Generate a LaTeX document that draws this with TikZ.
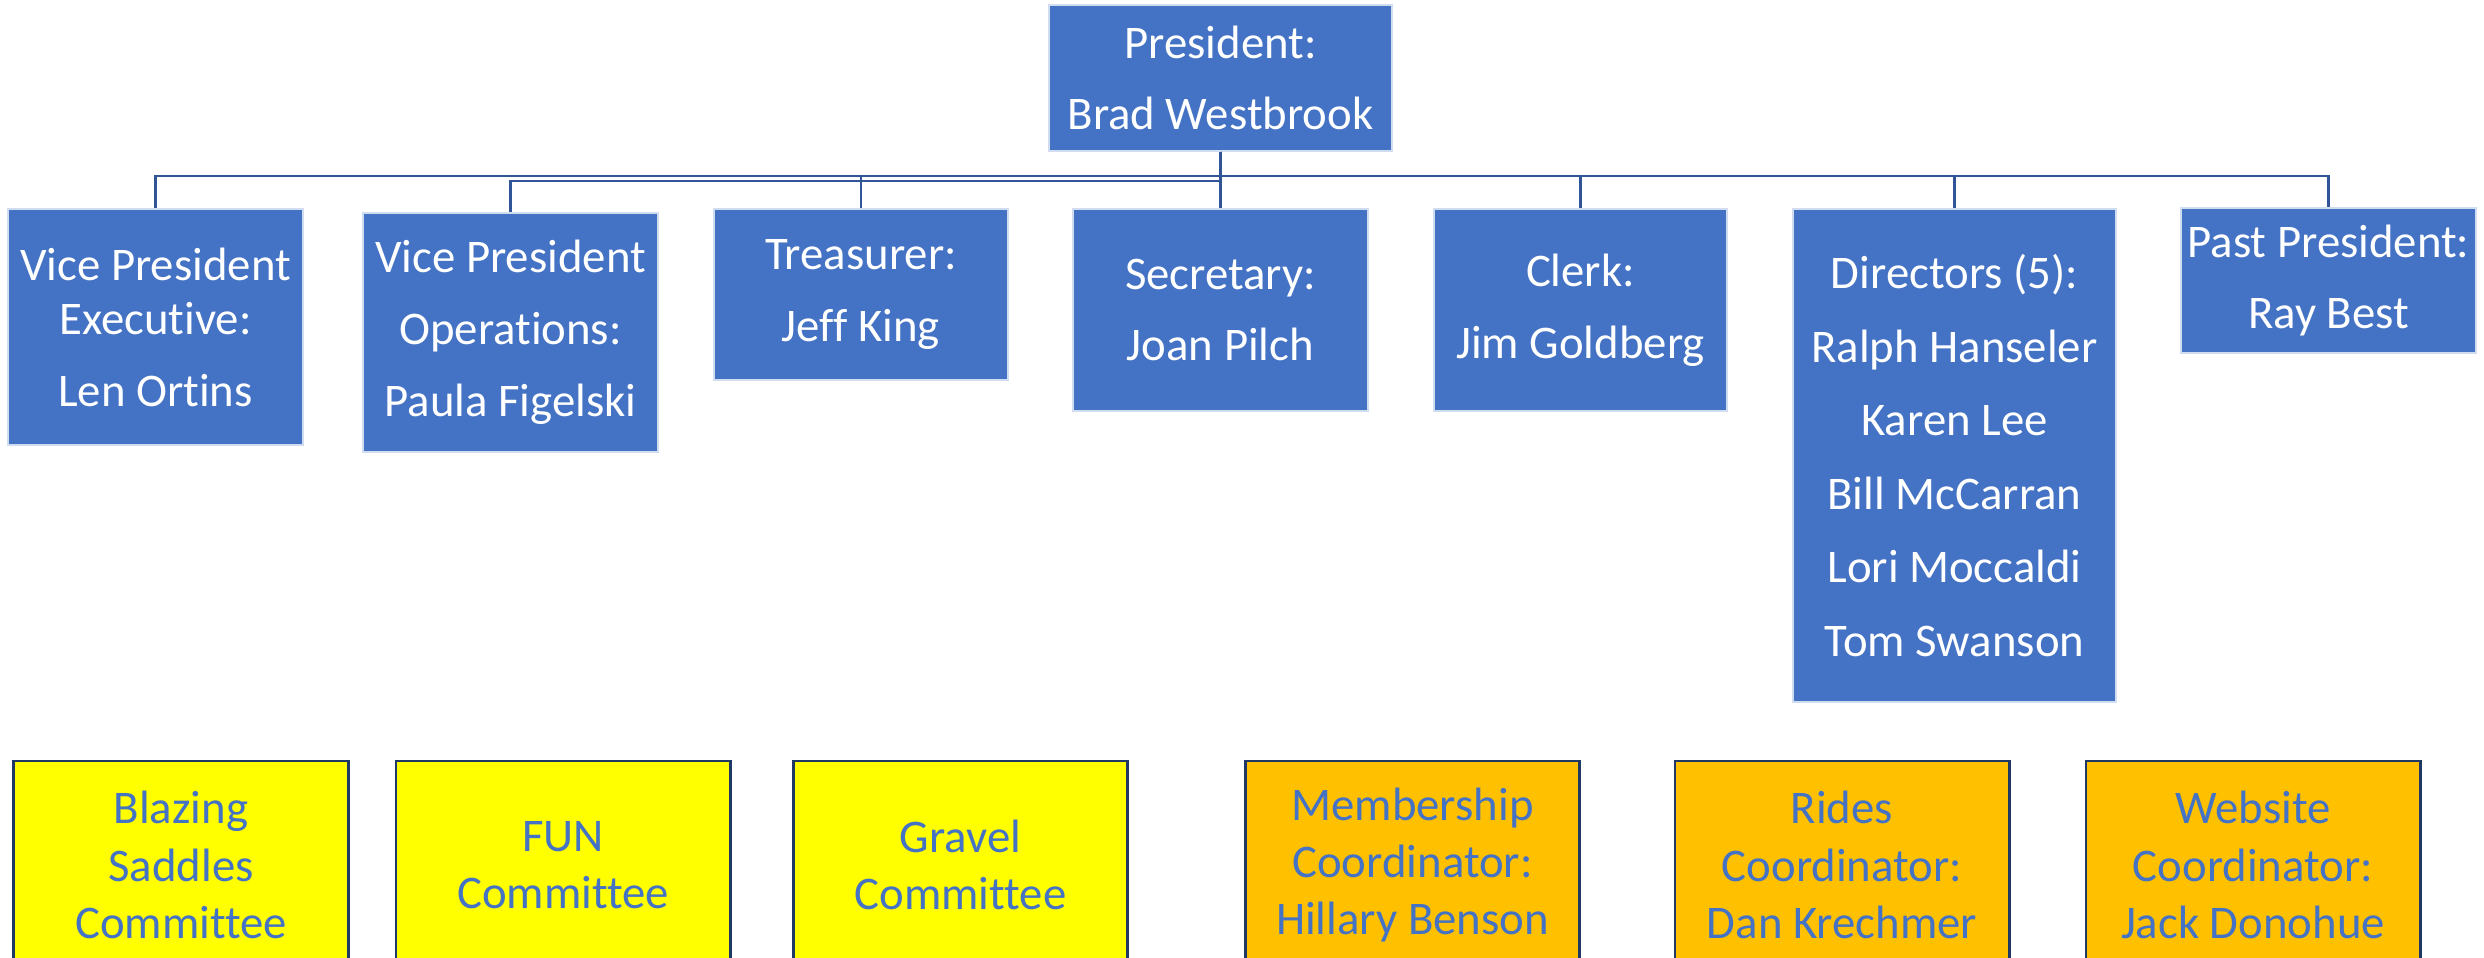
\documentclass[tikz,border=0pt]{standalone}
\usepackage{fontspec}
\setmainfont{Carlito}[Ligatures=CommonOff]
\usetikzlibrary{calc}
\definecolor{boxblue}{HTML}{4472C4}
\definecolor{linkblue}{HTML}{2F5597}
\definecolor{edgenavy}{HTML}{203864}
\definecolor{cmteyellow}{HTML}{FFFF00}
\definecolor{cmteorange}{HTML}{FFC000}
\newcommand{\orgfont}{\fontsize{13.3}{15.4}\selectfont}
\newcommand{\cmtefont}{\fontsize{13.3}{16.3}\selectfont}
\tikzset{
    post/.style={fill=boxblue,draw=white!75!boxblue,line width=0.4pt,text=white,align=center,inner sep=0pt,font=\orgfont},
    cmte/.style={draw=edgenavy,line width=0.8pt,text=boxblue,align=center,inner sep=0pt,font=\cmtefont,minimum width=3.34cm,minimum height=2.08cm},
    link/.style={draw=linkblue,line width=0.8pt}
}

\begin{document}
\begin{tikzpicture}[x=0.01cm,y=-0.01cm]
            \useasboundingbox (0,0) rectangle (2484,958);
            \clip (0,0) rectangle (2484,958);
            \fill [white] (0,0) rectangle (2484,958);

            \node [post,minimum width=3.43cm,minimum height=1.46cm] (pres) at (1220.5,78) {President:\\[5pt]Brad Westbrook};

            \node [post,minimum width=2.95cm,minimum height=2.36cm] (vpe) at (155.5,327) {Vice President\\Executive:\\[5pt]Len Ortins};
            \node [post,minimum width=2.95cm,minimum height=2.39cm] (vpo) at (510.5,332.5) {Vice President\\[5pt]Operations:\\[5pt]Paula Figelski};
            \node [post,minimum width=2.94cm,minimum height=1.71cm] (tre) at (861,294.5) {Treasurer:\\[5pt]Jeff King};
            \node [post,minimum width=2.95cm,minimum height=2.02cm] (sec) at (1220.5,310) {Secretary:\\[5pt]Joan Pilch};
            \node [post,minimum width=2.93cm,minimum height=2.02cm] (clk) at (1580.5,310) {Clerk:\\[5pt]Jim Goldberg};
            \node [post,minimum width=3.23cm,minimum height=4.93cm] (dir) at (1954.5,455.5) {Directors (5):\\[5.5pt]Ralph Hanseler\\[5.5pt]Karen Lee\\[5.5pt]Bill McCarran\\[5.5pt]Lori Moccaldi\\[5.5pt]Tom Swanson};
            \node [post,minimum width=2.95cm,minimum height=1.45cm] (past) at (2328.5,280.5) {Past President:\\[5pt]Ray Best};

            \coordinate (bus) at (0,176);
            \coordinate (busops) at (0,181);
            \foreach \c in {vpe,tre,sec,clk,dir,past} {
                \draw [link] (pres.south) |- (bus -| \c.north) -- (\c.north);
            }
            \draw [link] (pres.south) |- (busops -| vpo.north) -- (vpo.north);

            \node [cmte,fill=cmteyellow] (blz) at (181,865) {Blazing\\Saddles\\Committee};
            \node [cmte,fill=cmteyellow] (fun) at (563,865) {FUN\\Committee};
            \node [cmte,fill=cmteyellow] (grv) at (960.5,865) {Gravel\\Committee};
            \node [cmte,fill=cmteorange] (mem) at (1412.5,865) {Membership\\Coordinator:\\Hillary Benson};
            \node [cmte,fill=cmteorange] (rid) at (1842,865) {Rides\\Coordinator:\\Dan Krechmer};
            \node [cmte,fill=cmteorange] (web) at (2253,865) {Website\\Coordinator:\\Jack Donohue};
        \end{tikzpicture}
\end{document}
